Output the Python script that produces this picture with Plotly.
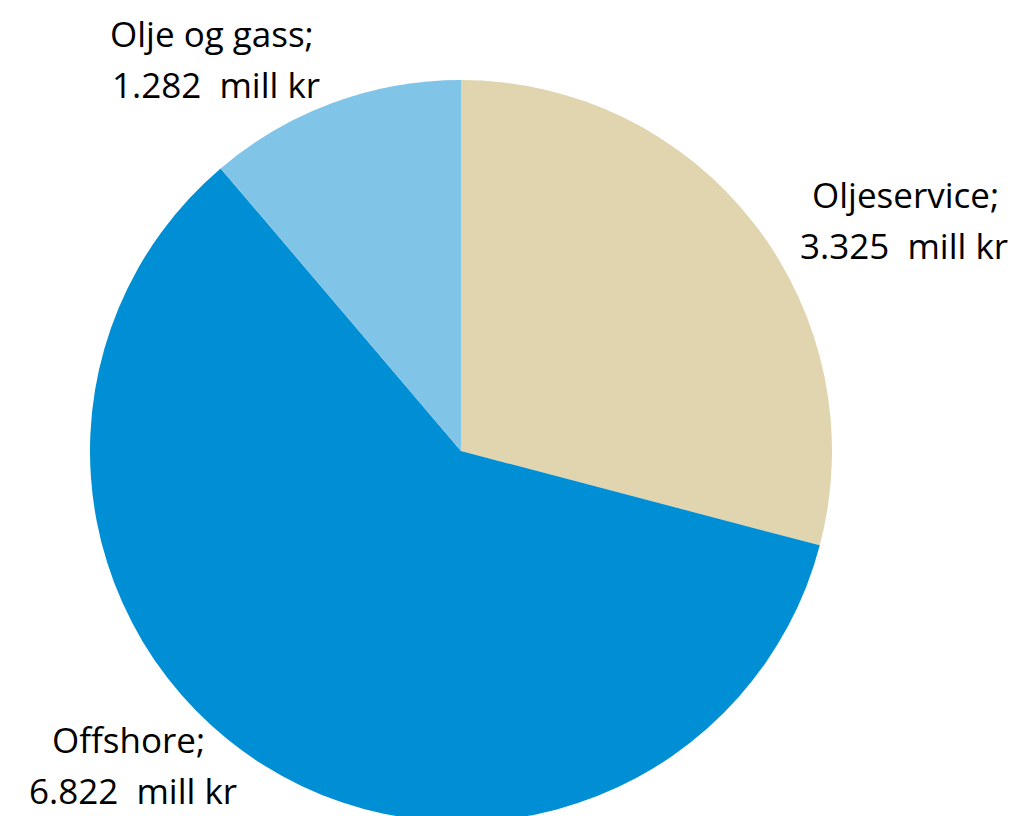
import plotly.graph_objects as go

labels = ["Oljeservice", "Offshore", "Olje og gass"]
values = [3325, 6822, 1282]
colors = ["#E0D5AF", "#008FD5", "#80C4E8"]

W, H = 1021, 816
OFF = 8  # default page body margin shifts the figure by 8px

# label line centres (screen px): (x1, y1, x2, y2) for the two text lines
label_pos = {
    "Oljeservice": (905, 195, 904, 245),
    "Offshore": (128, 739, 133, 790),
    "Olje og gass": (212, 33, 216, 84),
}

def fmt(v):
    return f"{v:,}".replace(",", ".")

cx, cy, r = 461 - OFF, 451 - OFF, 371
fig = go.Figure(go.Pie(
    labels=labels,
    values=values,
    marker=dict(colors=colors, line=dict(width=0)),
    sort=False,
    direction="clockwise",
    rotation=0,
    textinfo="none",
    hoverinfo="label+value",
    showlegend=False,
    domain=dict(x=[(cx - r) / W, (cx + r) / W],
                y=[max(0, 1 - (cy + r) / H), 1 - (cy - r) / H]),
))

annotations = []
for lab, val in zip(labels, values):
    x1, y1, x2, y2 = label_pos[lab]
    for txt, xx, yy in ((f"{lab};", x1, y1), (f"{fmt(val)}  mill kr", x2, y2)):
        annotations.append(dict(
            x=(xx - OFF) / W, y=1 - (yy - OFF) / H, xref="paper", yref="paper",
            text=txt, showarrow=False, xanchor="center", yanchor="middle",
            font=dict(family="Open Sans", size=35, color="#000000"),
        ))

fig.update_layout(
    width=W, height=H,
    margin=dict(l=0, r=0, t=0, b=0),
    paper_bgcolor="white", plot_bgcolor="white",
    annotations=annotations,
)

fig.write_html("out.html")
